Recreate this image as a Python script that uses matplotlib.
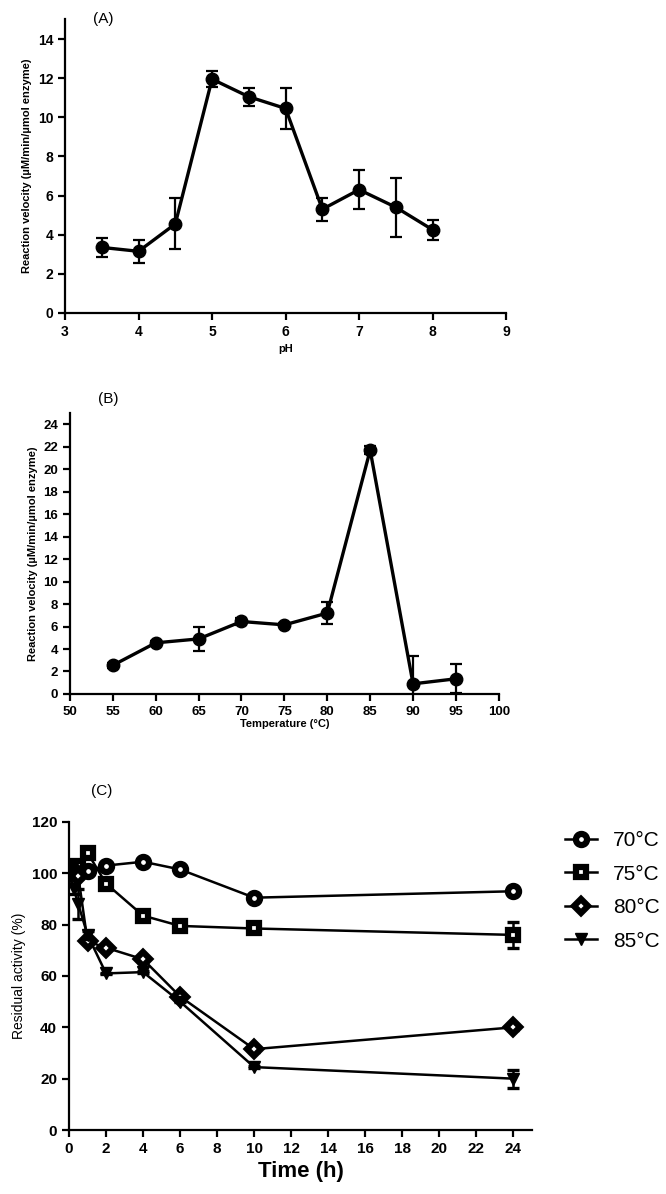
import numpy as np
import matplotlib
matplotlib.use("Agg")
import matplotlib.pyplot as plt

plt.rcParams["font.family"] = ["Liberation Sans", "DejaVu Sans"]

# (A) pH profile
ph = [3.5, 4.0, 4.5, 5.0, 5.5, 6.0, 6.5, 7.0, 7.5, 8.0]
ph_v = [3.35, 3.15, 4.55, 11.95, 11.05, 10.45, 5.3, 6.3, 5.4, 4.25]
ph_err = [0.5, 0.6, 1.3, 0.4, 0.45, 1.05, 0.6, 1.0, 1.5, 0.5]

# (B) temperature profile
temp = [55, 60, 65, 70, 75, 80, 85, 90, 95]
temp_v = [2.55, 4.55, 4.9, 6.45, 6.15, 7.2, 21.7, 0.9, 1.35]
temp_err = [0.2, 0.2, 1.1, 0.3, 0.2, 0.95, 0.35, 2.5, 1.3]

# (C) thermostability
t = [0, 0.25, 0.5, 1, 2, 4, 6, 10, 24]
series = {
    "70°C": ([100, 101, 102, 101, 103, 104.5, 101.5, 90.5, 93],
             [1, 1, 1, 1, 1, 1, 1, 1, 1.5], "o", 8),
    "75°C": ([100, 102, 103, 108, 96, 83.5, 79.5, 78.5, 76],
             [1, 1, 1, 1.5, 1, 1, 2, 1, 5], "s", 7.5),
    "80°C": ([100, 101, 99, 73.5, 71, 66.5, 52, 31.5, 40],
             [1, 1, 1, 1, 1, 1, 1, 1, 1], "D", 7),
    "85°C": ([100, 94, 88, 76, 61, 61.5, 50, 24.5, 20],
             [1, 2, 6, 1.5, 0.3, 0.3, 0.3, 0.3, 3.5], "v", 8.5),
}

fig = plt.figure(figsize=(6.66, 11.94), dpi=100)

def style(ax):
    for s in ["top", "right"]:
        ax.spines[s].set_visible(False)
    for s in ["left", "bottom"]:
        ax.spines[s].set_linewidth(1.6)
    ax.tick_params(direction="out", width=1.6, length=5)

# panel A
ax1 = fig.add_axes([0.0976, 0.7379, 0.6624, 0.2458])
ax1.errorbar(ph, ph_v, yerr=ph_err, color="black", lw=2.4, marker="o",
             ms=9, capsize=4, elinewidth=1.6, capthick=1.6)
ax1.set_xlim(3, 9)
ax1.set_ylim(0, 15)
ax1.set_yticks(range(0, 15, 2))
ax1.set_xlabel("pH", fontsize=8, fontweight="bold")
ax1.set_ylabel("Reaction velocity (µM/min/µmol enzyme)", fontsize=8, fontweight="bold")
style(ax1)
for lab in ax1.get_xticklabels() + ax1.get_yticklabels():
    lab.set_fontsize(10)
    lab.set_fontweight("bold")
fig.text(0.155, 0.99, "(A)", fontsize=11, ha="center", va="top")

# panel B
ax2 = fig.add_axes([0.105, 0.4188, 0.644, 0.2352])
ax2.errorbar(temp, temp_v, yerr=temp_err, color="black", lw=2.4, marker="o",
             ms=9, capsize=4, elinewidth=1.6, capthick=1.6)
ax2.set_xlim(50, 100)
ax2.set_ylim(0, 25)
ax2.set_yticks(range(0, 25, 2))
ax2.set_xticks(range(50, 101, 5))
ax2.set_xlabel("Temperature (°C)", fontsize=8, fontweight="bold", labelpad=1)
ax2.set_ylabel("Reaction velocity (µM/min/µmol enzyme)", fontsize=8, fontweight="bold")
style(ax2)
for lab in ax2.get_xticklabels() + ax2.get_yticklabels():
    lab.set_fontsize(9.5)
    lab.set_fontweight("bold")
fig.text(0.163, 0.672, "(B)", fontsize=11, ha="center", va="top")

# panel C
ax3 = fig.add_axes([0.1036, 0.0536, 0.6952, 0.258])
handles = []
for name, (vals, errs, mk, size) in series.items():
    ax3.errorbar(t, vals, yerr=errs, fmt="none", ecolor="black",
                 elinewidth=1.8, capsize=4, capthick=2.4)
    filled = mk == "v"
    h, = ax3.plot(t, vals, color="black", lw=1.8, marker=mk, ms=size,
                  mfc="black" if filled else "white", mec="black",
                  mew=1 if filled else 4.5, label=name)
    handles.append(h)
ax3.set_xlim(0, 25)
ax3.set_ylim(0, 120)
ax3.set_xticks(range(0, 25, 2))
ax3.set_yticks(range(0, 121, 20))
ax3.set_xlabel("Time (h)", fontsize=16, fontweight="bold")
ax3.set_ylabel("Residual activity (%)", fontsize=10)
style(ax3)
for lab in ax3.get_xticklabels() + ax3.get_yticklabels():
    lab.set_fontsize(11)
    lab.set_fontweight("bold")
fig.text(0.152, 0.343, "(C)", fontsize=11, ha="center", va="top")
fig.legend(handles=handles, loc="upper left", bbox_to_anchor=(0.848, 0.304),
           frameon=False, fontsize=15, handlelength=1.55, handletextpad=0.75,
           labelspacing=0.7, borderpad=0, borderaxespad=0)

fig.savefig("out.png", dpi=100)
